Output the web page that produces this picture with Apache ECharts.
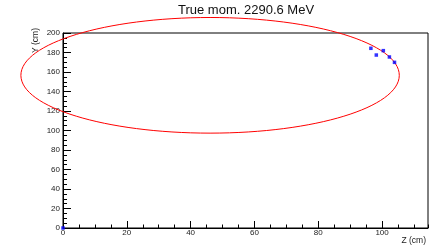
<!DOCTYPE html>
<html>
<head>
<meta charset="utf-8">
<script src="https://cdn.jsdelivr.net/npm/echarts@6/dist/echarts.min.js"></script>
<style>
  html, body { margin: 0; padding: 0; background: #fff; }
  #main { width: 432px; height: 249px; }
</style>
</head>
<body>
<div id="main"></div>
<script>
// hits along the track (Z, Y in cm)
var hitZ = [96.5, 98.2, 100.4, 102.3, 103.9, 0];
var hitY = [184.3, 177.4, 181.9, 175.4, 169.9, 0];
// fitted circle: centre Z, centre Y, radius (cm)
var circleFit = [46.1, 156.6, 59.3];
var titleText = 'True mom. 2290.6 MeV';

var FONT = '"Liberation Sans", Arial, sans-serif';

var hits = hitZ.map(function (z, i) { return [z, hitY[i]]; });

var myChart = echarts.init(document.getElementById('main'));
myChart.setOption({
    animation: false,
    title: {
        text: titleText,
        left: 178,
        top: 4,
        padding: 0,
        textStyle: { fontFamily: FONT, fontSize: 13, fontWeight: 'normal', color: '#111' }
    },
    grid: {
        left: 63, right: 4, top: 33, bottom: 21,
        show: true, borderColor: '#000', borderWidth: 1
    },
    xAxis: [{
        type: 'value', position: 'bottom',
        min: 0, max: 114.4, interval: 20,
        axisLine: { lineStyle: { color: '#000', width: 1 } },
        axisTick: { inside: true, length: 7, lineStyle: { color: '#000' } },
        axisLabel: { fontFamily: FONT, fontSize: 8, color: '#222', margin: 1, showMaxLabel: false },
        splitLine: { show: false }
    }, {
        // minor ticks every 5 cm
        type: 'value', position: 'bottom',
        min: 0, max: 114.4, interval: 5,
        axisLine: { show: false },
        axisTick: { inside: true, length: 3.5, lineStyle: { color: '#000' } },
        axisLabel: { show: false },
        splitLine: { show: false }
    }],
    yAxis: {
        type: 'value', position: 'left',
        min: 0, max: 200, interval: 20,
        axisLine: { lineStyle: { color: '#000', width: 1 } },
        axisTick: { inside: true, length: 8, lineStyle: { color: '#000' } },
        minorTick: { show: true, splitNumber: 4, length: 4, lineStyle: { color: '#000' } },
        axisLabel: { fontFamily: FONT, fontSize: 8, color: '#222', margin: 3 },
        splitLine: { show: false }
    },
    graphic: [{
        type: 'text', x: 36, y: 40.5, rotation: Math.PI / 2,
        style: { text: 'Y (cm)', font: '8.5px ' + FONT, fill: '#222', align: 'center', verticalAlign: 'middle' }
    }, {
        type: 'text', x: 426, y: 240.5,
        style: { text: 'Z (cm)', font: '8.5px ' + FONT, fill: '#222', align: 'right', verticalAlign: 'middle' }
    }],
    series: [{
        type: 'custom',
        xAxisIndex: 0,
        clip: false,
        data: [circleFit],
        encode: { x: 0, y: 1 },
        renderItem: function (params, api) {
            var c = api.coord([api.value(0), api.value(1)]);
            var s = api.size([api.value(2), api.value(2)]);
            return {
                type: 'ellipse',
                shape: { cx: c[0], cy: c[1], rx: s[0], ry: s[1] },
                style: { fill: 'none', stroke: '#ff0000', lineWidth: 1 }
            };
        }
    }, {
        type: 'scatter',
        xAxisIndex: 0,
        clip: false,
        symbol: 'rect',
        symbolSize: 3.5,
        itemStyle: { color: '#0000ff' },
        data: hits
    }]
});
</script>
</body>
</html>
